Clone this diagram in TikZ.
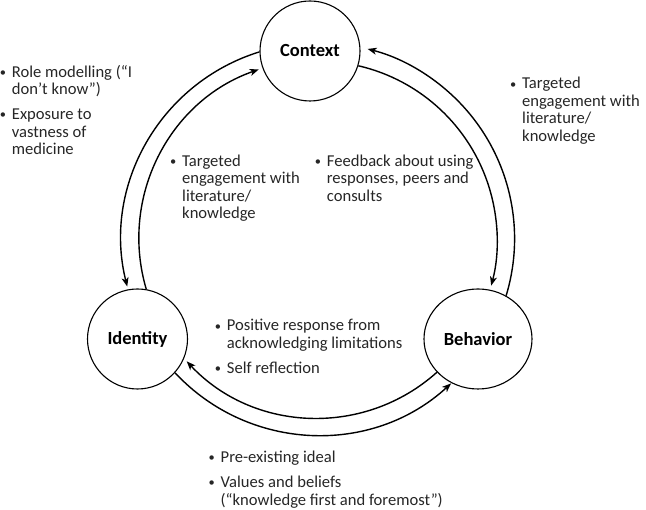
\documentclass[tikz,border=0pt]{standalone}
\usepackage{fontspec}
\setmainfont{Carlito}
\usetikzlibrary{arrows.meta,shapes.geometric}
\newcommand\bulitem{\llap{\makebox[18pt]{\raisebox{0.8pt}{\scalebox{0.75}{•}}}}}
\begin{document}
\begin{tikzpicture}[x=1pt,y=1pt,
  hub/.style={draw, line width=1.1pt, inner sep=0pt, font=\fontsize{18.5}{20}\selectfont\bfseries},
  link/.style={line width=1.4pt},
  arr/.style={link, -{Stealth[length=9pt,width=7pt,inset=2.5pt]}},
  txt/.style={anchor=base west, inner sep=0pt, text=black!85, font=\fontsize{16.6}{17.5}\selectfont}
]
\useasboundingbox (0,0) rectangle (646,510);

% hubs
\node[hub, circle, minimum size=100pt] (ctx) at (310,459) {Context};
\node[hub, circle, minimum size=100pt] (idn) at (137.5,171) {Identity};
\node[hub, ellipse, minimum width=108pt, minimum height=100pt] (beh) at (478,171) {Behavior};

% connectors (concentric arcs around a common centre)
\draw[arr] (ctx.181)   arc[start angle=107.2, end angle=194,   radius=196];
\draw[arr] (idn.80)    arc[start angle=196.5, end angle=109.3, radius=179];
\draw[arr] (beh.57.4)  arc[start angle=-16.9, end angle=75.5,  radius=196];
\draw[arr] (ctx.343)   arc[start angle=77,    end angle=-14.7, radius=179];
\draw[arr] (idn.318)   arc[start angle=223,   end angle=312.6, radius=196];
\draw[arr] (beh.219.4) arc[start angle=311.9, end angle=223.1, radius=179];

% texts
\node[txt] (tl) at (11.7,432.7) {\begin{tabular}[t]{@{}l@{}}
\bulitem Role modelling (“I\\
don’t know”)\\[7.5pt]
\bulitem Exposure to\\
vastness of\\
medicine\end{tabular}};

\node[txt] (tr) at (522,421) {\begin{tabular}[t]{@{}l@{}}
\bulitem Targeted\\
engagement with\\
literature/\\
knowledge\end{tabular}};

\node[txt] (til) at (182,343.5) {\begin{tabular}[t]{@{}l@{}}
\bulitem Targeted\\
engagement with\\
literature/\\
knowledge\end{tabular}};

\node[txt] (tir) at (326.7,343.5) {\begin{tabular}[t]{@{}l@{}}
\bulitem Feedback about using\\
responses, peers and\\
consults\end{tabular}};

\node[txt] (tib) at (226.7,179) {\begin{tabular}[t]{@{}l@{}}
\bulitem Positive response from\\
acknowledging limitations\\[7.5pt]
\bulitem Self reflection\end{tabular}};

\node[txt] (tb) at (220.5,47.3) {\begin{tabular}[t]{@{}l@{}}
\bulitem Pre-existing ideal\\[7.5pt]
\bulitem Values and beliefs\\
(“knowledge first and foremost”)\end{tabular}};
\end{tikzpicture}
\end{document}
